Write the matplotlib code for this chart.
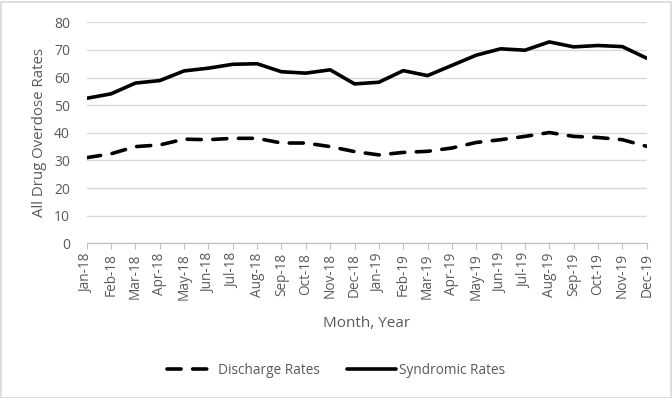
import matplotlib
matplotlib.use("Agg")
import matplotlib.pyplot as plt
from matplotlib.patches import Rectangle

months = ["Jan-18", "Feb-18", "Mar-18", "Apr-18", "May-18", "Jun-18", "Jul-18", "Aug-18",
          "Sep-18", "Oct-18", "Nov-18", "Dec-18", "Jan-19", "Feb-19", "Mar-19", "Apr-19",
          "May-19", "Jun-19", "Jul-19", "Aug-19", "Sep-19", "Oct-19", "Nov-19", "Dec-19"]
discharge = [31.0, 32.4, 35.0, 35.6, 37.7, 37.5, 38.0, 38.0, 36.3, 36.3, 35.0, 33.2,
             32.0, 32.9, 33.3, 34.5, 36.5, 37.5, 38.7, 40.1, 38.7, 38.3, 37.5, 35.1]
syndromic = [52.5, 54.1, 58.0, 58.9, 62.4, 63.4, 64.8, 65.0, 62.1, 61.6, 62.8, 57.7,
             58.3, 62.5, 60.7, 64.4, 68.1, 70.4, 69.9, 72.9, 71.1, 71.6, 71.2, 67.0]
y_ticks = [0, 10, 20, 30, 40, 50, 60, 70, 80]

gray_text = "#595959"
plt.rcParams["font.family"] = ["Open Sans", "DejaVu Sans"]

fig = plt.figure(figsize=(6.72, 3.98), dpi=100)
ax = fig.add_axes([86.7 / 672, 1 - 243.3 / 398, (646.7 - 86.7) / 672, (243.3 - 22.3) / 398])

x = list(range(len(months)))
ax.plot(x, syndromic, color="black", lw=2.6, solid_capstyle="round",
        solid_joinstyle="round", label="Syndromic Rates")
ax.plot(x, discharge, color="black", lw=2.6, dashes=(3.9, 3.2), dash_capstyle="round",
        label="Discharge Rates")

ax.set_xlim(0, len(months) - 1)
ax.set_ylim(0, 80)
ax.set_yticks(y_ticks)
ax.set_xticks(x)
ax.set_xticklabels(months, rotation=90, fontsize=9.8, color=gray_text)
ax.tick_params(axis="y", length=0, labelsize=10, labelcolor=gray_text, pad=12)
ax.tick_params(axis="x", length=4, color="#bfbfbf", pad=3)
ax.grid(axis="y", color="#d9d9d9", lw=1)
ax.set_axisbelow(True)
for side in ["top", "right", "left"]:
    ax.spines[side].set_visible(False)
ax.spines["bottom"].set_color("#bfbfbf")
ax.spines["bottom"].set_zorder(0.5)

ax.set_ylabel("All Drug Overdose Rates", fontsize=10.8, color=gray_text, labelpad=5)
ax.set_xlabel("Month, Year", fontsize=11, color=gray_text, labelpad=12)

handles, labels = ax.get_legend_handles_labels()
fig.legend(handles[::-1], labels[::-1], loc="center", bbox_to_anchor=(336 / 672, 1 - 370 / 398),
           ncol=2, frameon=False, fontsize=9.8, labelcolor=gray_text, handlelength=3.6,
           handletextpad=0.15, columnspacing=2.0)

fig.patches.append(Rectangle((0.5 / 672, 0.5 / 398), 670 / 672, 396 / 398,
                             transform=fig.transFigure, fill=False, edgecolor="#d9d9d9", lw=1.2))

fig.savefig("out.png", dpi=100)
